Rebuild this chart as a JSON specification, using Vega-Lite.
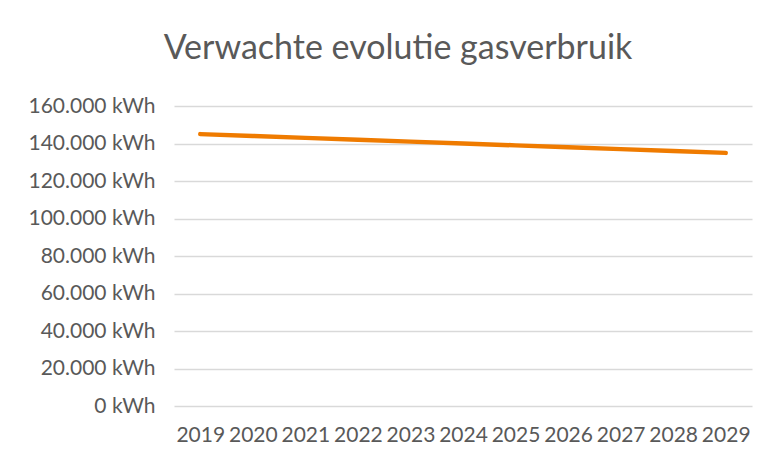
{
  "$schema": "https://vega.github.io/schema/vega-lite/v6.json",
  "width": 578,
  "height": 300,
  "autosize": {"type": "none"},
  "padding": {"left": 174, "top": 106, "right": 14, "bottom": 57},
  "background": "white",
  "title": {
    "text": "Verwachte evolutie gasverbruik",
    "font": "Lato",
    "fontSize": 34,
    "fontWeight": "normal",
    "color": "#595959",
    "anchor": "middle",
    "dx": -65,
    "baseline": "alphabetic",
    "offset": 2
  },
  "data": {
    "values": [
      {"jaar": "2019", "verbruik": 145000},
      {"jaar": "2020", "verbruik": 144000},
      {"jaar": "2021", "verbruik": 143000},
      {"jaar": "2022", "verbruik": 142000},
      {"jaar": "2023", "verbruik": 141000},
      {"jaar": "2024", "verbruik": 140000},
      {"jaar": "2025", "verbruik": 139000},
      {"jaar": "2026", "verbruik": 138000},
      {"jaar": "2027", "verbruik": 137000},
      {"jaar": "2028", "verbruik": 136000},
      {"jaar": "2029", "verbruik": 135000}
    ]
  },
  "mark": {"type": "line", "color": "#EF7B00", "strokeWidth": 4.5, "strokeCap": "round"},
  "encoding": {
    "x": {
      "field": "jaar",
      "type": "ordinal",
      "scale": {"type": "point", "padding": 0.5},
      "axis": {
        "title": null,
        "labelAngle": 0,
        "labelFont": "Lato",
        "labelFontSize": 21,
        "labelColor": "#595959",
        "labelPadding": 18,
        "ticks": false,
        "domain": false,
        "grid": false
      }
    },
    "y": {
      "field": "verbruik",
      "type": "quantitative",
      "scale": {"domain": [0, 160000], "nice": false},
      "axis": {
        "title": null,
        "values": [0, 20000, 40000, 60000, 80000, 100000, 120000, 140000, 160000],
        "labelExpr": "replace(format(datum.value, ',d'), /,/g, '.') + ' kWh'",
        "labelFont": "Lato",
        "labelFontSize": 21,
        "labelColor": "#595959",
        "labelPadding": 19,
        "ticks": false,
        "domain": false,
        "grid": true,
        "gridColor": "#d9d9d9",
        "gridWidth": 1.3
      }
    }
  },
  "config": {"view": {"stroke": null}}
}
